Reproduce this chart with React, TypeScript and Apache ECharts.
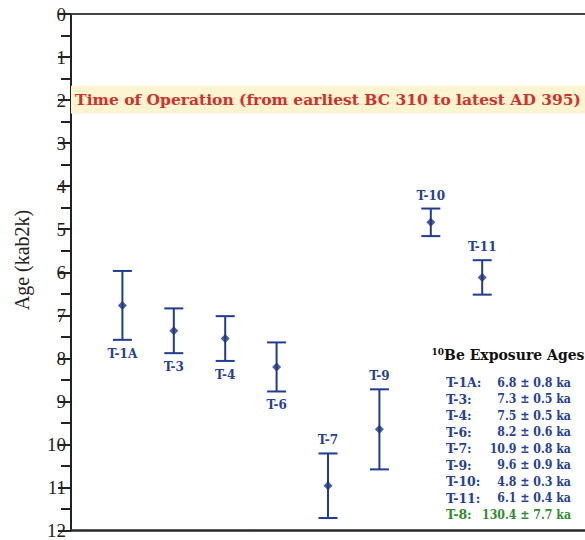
import React, { useEffect, useRef } from "react";
import * as echarts from "echarts";

// ---- data ----
const categories = ["T-1A", "T-3", "T-4", "T-6", "T-7", "T-9", "T-10", "T-11"];
const xPositions = [1, 2, 3, 4, 5, 6, 7, 8];
const ages = [6.77, 7.36, 7.54, 8.2, 10.96, 9.65, 4.84, 6.12];
const errors = [0.8, 0.52, 0.52, 0.57, 0.75, 0.93, 0.32, 0.4];
const labelSides = ["below", "below", "below", "below", "above", "above", "above", "above"];

const legendNames = ["T-1A", "T-3", "T-4", "T-6", "T-7", "T-9", "T-10", "T-11", "T-8"];
const legendAges = ["6.8", "7.3", "7.5", "8.2", "10.9", "9.6", "4.8", "6.1", "130.4"];
const legendErrors = ["0.8", "0.5", "0.5", "0.6", "0.8", "0.9", "0.3", "0.4", "7.7"];
const legendColors = ["#24409a", "#24409a", "#24409a", "#24409a", "#24409a", "#24409a", "#24409a", "#24409a", "#2e8b2e"];

const yTickMin = 0;
const yTickMax = 12;
const yTickInterval = 1;

const bandStart = 1.665;
const bandEnd = 2.31;
const bandText = "Time of Operation (from earliest BC 310 to latest AD 395)";

const SERIF = "DejaVu Serif";
const TIMES = "Liberation Serif";
const BLUE = "#1f3c91";
const LABEL_BLUE = "#24409a";

export default function App() {
  const ref = useRef<HTMLDivElement>(null);

  useEffect(() => {
    if (!ref.current) return;
    const chart = echarts.init(ref.current, null, { renderer: "svg" });

    const barData = categories.map((c, i) => [xPositions[i], ages[i], errors[i], i]);
    const pointData = categories.map((c, i) => [xPositions[i], ages[i]]);

    const legendTop = 382.5;
    const legendStep = 16.5;
    const legendGraphics: any[] = [
      {
        type: "text",
        x: 508,
        y: 355,
        style: {
          text: "{sup|10}{t|Be Exposure Ages}",
          align: "center",
          verticalAlign: "middle",
          rich: {
            sup: { fontSize: 9, fontWeight: "bold", fontFamily: SERIF, fill: "#111", padding: [0, 0, 7, 0] },
            t: { fontSize: 14, fontWeight: "bold", fontFamily: SERIF, fill: "#111" },
          },
        },
      },
    ];
    legendNames.forEach((n, i) => {
      const y = legendTop + legendStep * i;
      legendGraphics.push({
        type: "text",
        x: 446,
        y,
        style: {
          text: n + ":",
          align: "left",
          verticalAlign: "middle",
          fontSize: 12.5,
          fontWeight: "bold",
          fontFamily: SERIF,
          fill: legendColors[i],
        },
      });
      legendGraphics.push({
        type: "text",
        x: 571,
        y,
        scaleX: 0.88,
        style: {
          text: `${legendAges[i]} ± ${legendErrors[i]} ka`,
          align: "right",
          verticalAlign: "middle",
          fontSize: 12.5,
          fontWeight: "bold",
          fontFamily: SERIF,
          fill: legendColors[i],
        },
      });
    });

    legendGraphics.push({
      type: "text",
      x: 22,
      y: 260,
      rotation: Math.PI / 2,
      style: {
        text: "Age (kab2k)",
        align: "center",
        verticalAlign: "middle",
        fontSize: 20,
        fontFamily: TIMES,
        fill: "#222",
      },
    });

    chart.setOption({
      animation: false,
      grid: { left: 71, right: 0, top: 14, bottom: 9, containLabel: false },
      xAxis: [
        {
          type: "value",
          min: 0,
          max: 10,
          position: "bottom",
          axisLine: { show: true, onZero: false, lineStyle: { color: "#2a2a2a", width: 2.5 } },
          axisTick: { show: false },
          axisLabel: { show: false },
          splitLine: { show: false },
        },
        {
          type: "value",
          min: 0,
          max: 10,
          position: "top",
          axisLine: { show: true, onZero: false, lineStyle: { color: "#444", width: 2 } },
          axisTick: { show: false },
          axisLabel: { show: false },
          splitLine: { show: false },
        },
      ],
      yAxis: {
        type: "value",
        inverse: true,
        min: yTickMin,
        max: yTickMax,
        interval: yTickInterval,
        axisLine: { show: true, lineStyle: { color: "#222", width: 2 } },
        axisTick: { show: true, inside: false, length: 13, lineStyle: { color: "#222", width: 2 } },
        minorTick: { show: true, splitNumber: 2, length: 10, lineStyle: { color: "#222", width: 2 } },
        axisLabel: { fontFamily: TIMES, fontSize: 19, color: "#222", margin: 5 },
        splitLine: { show: false },
        minorSplitLine: { show: false },
      },
      graphic: legendGraphics,
      series: [
        {
          type: "custom",
          xAxisIndex: 0,
          data: barData,
          z: 3,
          renderItem: (params: any, api: any) => {
            const x = api.value(0);
            const y = api.value(1);
            const e = api.value(2);
            const idx = api.value(3);
            const top = api.coord([x, y - e]);
            const bot = api.coord([x, y + e]);
            const half = 9.5;
            const ls = { stroke: BLUE, lineWidth: 2 };
            const below = labelSides[idx] === "below";
            return {
              type: "group",
              children: [
                { type: "line", shape: { x1: top[0], y1: top[1], x2: bot[0], y2: bot[1] }, style: ls },
                { type: "line", shape: { x1: top[0] - half, y1: top[1], x2: top[0] + half, y2: top[1] }, style: ls },
                { type: "line", shape: { x1: bot[0] - half, y1: bot[1], x2: bot[0] + half, y2: bot[1] }, style: ls },
                {
                  type: "text",
                  x: top[0],
                  y: below ? bot[1] + 14 : top[1] - 13,
                  style: {
                    text: categories[idx],
                    align: "center",
                    verticalAlign: "middle",
                    fontSize: 12,
                    fontWeight: "bold",
                    fontFamily: SERIF,
                    fill: LABEL_BLUE,
                  },
                },
              ],
            };
          },
          markArea: {
            silent: true,
            itemStyle: { color: "#fdf4d2" },
            label: {
              show: true,
              position: "inside",
              formatter: bandText,
              color: "#d2302a",
              fontWeight: "bold",
              fontSize: 15.5,
              fontFamily: SERIF,
            },
            data: [[{ yAxis: bandStart }, { yAxis: bandEnd }]],
          },
        },
        {
          type: "scatter",
          data: pointData,
          symbol: "diamond",
          symbolSize: 9,
          itemStyle: { color: "#1a3585" },
          z: 4,
        },
      ],
    });

    return () => chart.dispose();
  }, []);

  return (
    <div
      ref={ref}
      style={{ position: "fixed", left: 0, top: 0, width: 585, height: 540, background: "#fff" }}
    />
  );
}
